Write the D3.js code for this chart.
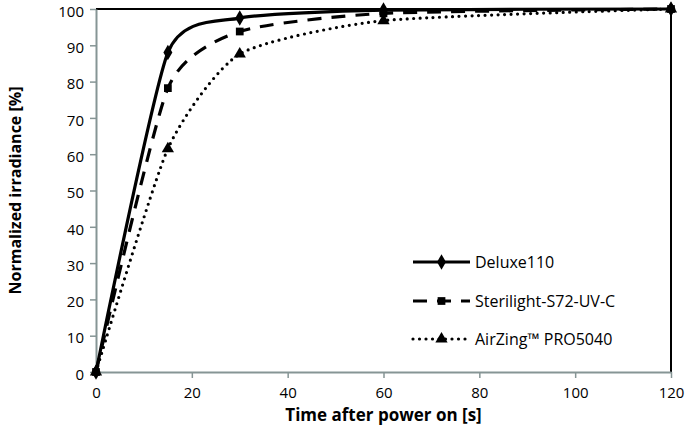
<!DOCTYPE html>
<html>
<head>
<meta charset="utf-8">
<script src="https://cdn.jsdelivr.net/npm/d3@7"></script>
<style>
  body { margin: 0; background: #fff; }
  svg text { font-family: "Open Sans", Lato, sans-serif; fill: #000; }
</style>
</head>
<body>
<div id="chart"></div>
<script>
// 数据
var times = [0, 15, 30, 60, 120];
var deluxe = [0, 88, 97.5, 99.7, 100];
var sterilight = [0, 78.2, 93.8, 98.8, 100];
var airzing = [0, 61.5, 87.6, 96.8, 100];
var seriesNames = ["Deluxe110", "Sterilight-S72-UV-C", "AirZing\u2122 PRO5040"];
var xTicks = [0, 20, 40, 60, 80, 100, 120];
var yTicks = [0, 10, 20, 30, 40, 50, 60, 70, 80, 90, 100];

var W = 685, H = 439;
var margin = { top: 9, right: 14, bottom: 67, left: 96 };
var axisColor = "#869595";

var svg = d3.select("#chart").append("svg")
  .attr("width", W).attr("height", H);

var x = d3.scaleLinear().domain([0, 120]).range([margin.left, W - margin.right]);
var y = d3.scaleLinear().domain([0, 100]).range([H - margin.bottom, margin.top]);

// 边框 top/right
svg.append("path")
  .attr("d", `M${x(0)},${y(100)}H${x(120)}V${y(0)}`)
  .attr("fill", "none").attr("stroke", "#000").attr("stroke-width", 2);

// 轴
var xAxis = svg.append("g")
  .attr("transform", `translate(0,${y(0)})`)
  .call(d3.axisBottom(x).tickValues(xTicks).tickSize(6).tickSizeOuter(0).tickPadding(9));
var yAxis = svg.append("g")
  .attr("transform", `translate(${x(0)},0)`)
  .call(d3.axisLeft(y).tickValues(yTicks).tickSize(6).tickSizeOuter(0).tickPadding(6));
[xAxis, yAxis].forEach(function(g){
  g.select(".domain").attr("stroke", axisColor).attr("stroke-width", 2);
  g.selectAll(".tick line").attr("stroke", axisColor).attr("stroke-width", 1.5);
  g.selectAll(".tick text").attr("font-size", 15).attr("fill", "#000")
    .style("font-family", "'Open Sans', Lato, sans-serif");
});
yAxis.selectAll(".tick text").attr("dy", "0.48em");

// 轴标题
svg.append("text")
  .attr("x", (x(0) + x(120)) / 2).attr("y", 421)
  .attr("text-anchor", "middle").attr("font-size", 17).attr("font-weight", "bold")
  .text("Time after power on [s]");
svg.append("text")
  .attr("transform", `translate(21,${(y(0) + y(100)) / 2}) rotate(-90)`)
  .attr("text-anchor", "middle").attr("font-size", 16).attr("font-weight", "bold")
  .text("Normalized irradiance [%]");

var styles = [
  { values: deluxe, dash: null, cap: "butt", marker: d3.symbolDiamond, size: 70 },
  { values: sterilight, dash: "14,10", cap: "butt", marker: d3.symbolSquare, size: 60 },
  { values: airzing, dash: "0,6.5", cap: "round", marker: d3.symbolTriangle, size: 65 }
];

// 平滑曲线 (类似 Excel 平滑线)
var line = d3.line()
  .x(d => x(d[0])).y(d => y(d[1]))
  .curve(d3.curveCardinal.tension(0.4));

var plot = svg.append("g");
styles.slice().reverse().forEach(function(s){
  var pts = times.map((t, i) => [t, s.values[i]]);
  plot.append("path")
    .datum(pts)
    .attr("d", line)
    .attr("fill", "none").attr("stroke", "#000")
    .attr("stroke-width", 3.2)
    .attr("stroke-linecap", s.cap)
    .attr("stroke-dasharray", s.dash);
  plot.selectAll(null).data(pts).join("path")
    .attr("d", d3.symbol().type(s.marker).size(s.size))
    .attr("transform", d => `translate(${x(d[0])},${y(d[1])})`)
    .attr("fill", "#000");
});

// 图例
var legend = svg.append("g");
var legendY = [262, 301, 339];
styles.forEach(function(s, i){
  var ly = legendY[i];
  legend.append("line")
    .attr("x1", 413).attr("x2", 470).attr("y1", ly).attr("y2", ly)
    .attr("stroke", "#000").attr("stroke-width", 3.2)
    .attr("stroke-linecap", s.cap)
    .attr("stroke-dasharray", s.dash);
  legend.append("path")
    .attr("d", d3.symbol().type(s.marker).size(s.size))
    .attr("transform", `translate(441.5,${ly})`)
    .attr("fill", "#000");
  legend.append("text")
    .attr("x", 475).attr("y", ly).attr("dy", "0.35em")
    .attr("font-size", 16)
    .text(seriesNames[i]);
});
</script>
</body>
</html>
